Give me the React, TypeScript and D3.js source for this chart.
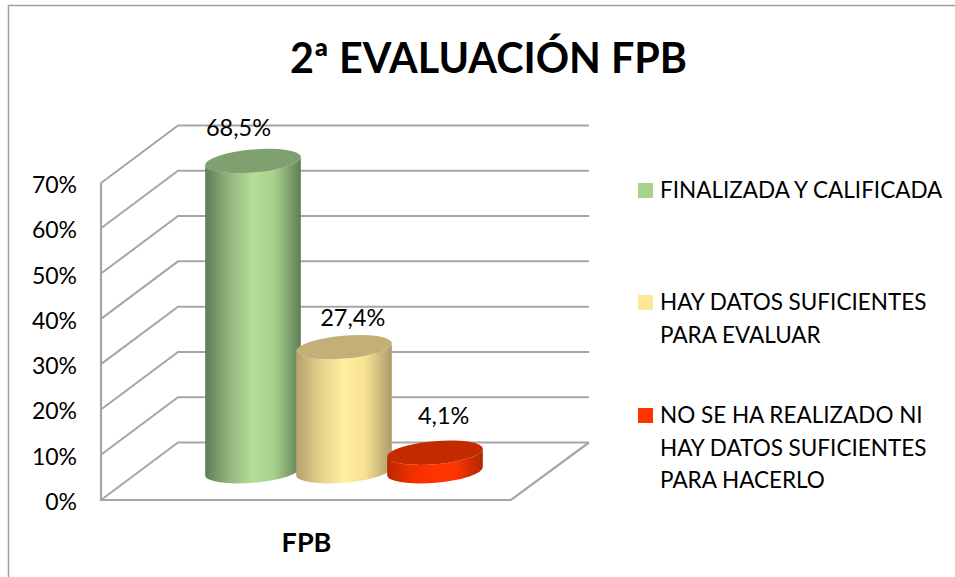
import React from "react";
import * as d3 from "d3";

const titleText = "2ª EVALUACIÓN FPB";
const categoryLabel = "FPB";
const seriesKeys = ["a", "b", "c"];
const seriesValues = [68.5, 27.4, 4.1];
const valueLabels = ["68,5%", "27,4%", "4,1%"];
const yTicks = [0, 10, 20, 30, 40, 50, 60, 70];
const legendLines = [
  ["FINALIZADA Y CALIFICADA"],
  ["HAY DATOS SUFICIENTES", "PARA EVALUAR"],
  ["NO SE HA REALIZADO NI", "HAY DATOS SUFICIENTES", "PARA HACERLO"],
];
const legendColors = ["#a9d18e", "#ffe699", "#ff3300"];
const topColors = ["#7fa06f", "#c4b077", "#c42a00"];
const gradientStops = [
  ["#5f7d55", "#93b67c", "#b5de97", "#a9d18e", "#5f7d55"],
  ["#b5a26c", "#e4d08c", "#fff0a0", "#f8e294", "#ad9b68"],
  ["#b82800", "#f03000", "#ff3300", "#ff3300", "#b02800"],
];

const FONT = "Lato, 'Open Sans', sans-serif";
const GRID = "#a6a6a6";

export default function App() {
  const y = d3.scaleLinear().domain([0, 70]).range([500, 183]);
  const x = d3.scaleBand<string>().domain(seriesKeys).range([205, 483]).paddingInner(-0.055);
  const dx = 77;
  const dy = -57.5;
  const x0 = 101;
  const frontRight = 511;
  const backRight = 589;
  const rx = 48;
  const ry = 11.5;
  const rot = -5;
  const tiltY = rx * Math.sin((-rot * Math.PI) / 180);
  const tiltX = rx * Math.cos((rot * Math.PI) / 180);
  const midY = (v: number) => y(v) + dy / 2;
  const line = d3.line();

  return (
    <svg width={955} height={577} style={{ position: "fixed", left: 0, top: 0, background: "#fff" }}>
      <defs>
        {gradientStops.map((s, i) => (
          <linearGradient key={i} id={`g${i}`} x1="0" x2="1" y1="0" y2="0">
            {s.map((c, j) => (
              <stop key={j} offset={[0, 0.25, 0.5, 0.72, 1][j]} stopColor={c} />
            ))}
          </linearGradient>
        ))}
      </defs>
      <path d="M8.5,577V5.5H955" fill="none" stroke="#a0a0a0" strokeWidth={1.5} />
      <text x={488.5} y={73} textAnchor="middle" fontFamily={FONT} fontWeight={700} fontSize={41.3} fill="#000">
        {titleText}
      </text>

      {yTicks.map((t) => (
        <path
          key={t}
          d={
            line([
              [x0, y(t)],
              [x0 + dx, y(t) + dy],
              [backRight, y(t) + dy],
            ]) as string
          }
          fill="none"
          stroke={GRID}
          strokeWidth={2}
        />
      ))}
      <path
        d={
          line([
            [x0, y(70)],
            [x0, y(0)],
            [frontRight, y(0)],
            [backRight, y(0) + dy],
          ]) as string
        }
        fill="none"
        stroke={GRID}
        strokeWidth={2.2}
      />
      {yTicks.map((t) => (
        <text key={t} x={77} y={y(t) + 10} textAnchor="end" fontFamily={FONT} fontSize={23} fill="#000">
          {t}%
        </text>
      ))}

      {seriesKeys.map((k, i) => {
        const cx = (x(k) as number) + x.bandwidth() / 2;
        const top = midY(seriesValues[i]);
        const base = midY(0);
        const lx = cx - tiltX;
        const rxp = cx + tiltX;
        const body = `M${lx},${top + tiltY}L${lx},${base + tiltY}A${rx},${ry} ${rot} 0 0 ${rxp},${base - tiltY}L${rxp},${top - tiltY}A${rx},${ry} ${rot} 0 1 ${lx},${top + tiltY}Z`;
        return (
          <g key={k}>
            <path d={body} fill={`url(#g${i})`} />
            <ellipse cx={cx} cy={top} rx={rx} ry={ry} transform={`rotate(${rot} ${cx} ${top})`} fill={topColors[i]} />
            <text x={cx} y={top - [25, 21, 29][i]} dx={[-14.5, 8.7, 8.7][i]} textAnchor="middle" fontFamily={FONT} fontSize={23.5} fill="#000">
              {valueLabels[i]}
            </text>
          </g>
        );
      })}

      <text x={306.5} y={552} textAnchor="middle" fontFamily={FONT} fontWeight={700} fontSize={27} fill="#000">
        {categoryLabel}
      </text>

      {legendLines.map((lines, i) => {
        const ty = [190, 302, 415][i];
        return (
          <g key={i}>
            <rect x={638} y={ty - 7} width={15} height={15} fill={legendColors[i]} />
            {lines.map((l, j) => (
              <text key={j} x={660} y={ty + 8 + j * 32.5} fontFamily={FONT} fontSize={22.5} fill="#000">
                {l}
              </text>
            ))}
          </g>
        );
      })}
    </svg>
  );
}
